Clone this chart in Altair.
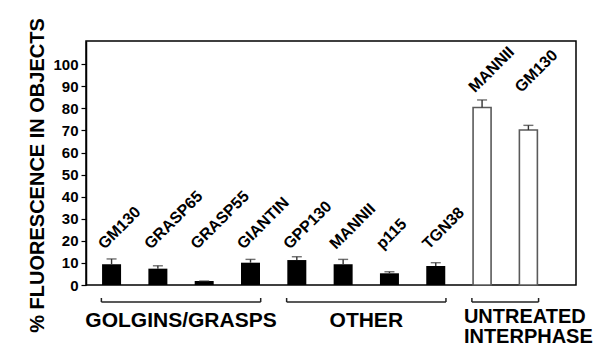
import altair as alt
import pandas as pd

# ---- data ----
labels = ["GM130", "GRASP65", "GRASP55", "GIANTIN",
          "GPP130", "MANNII", "p115", "TGN38",
          "MANNII", "GM130"]
values = [9.4, 7.4, 1.8, 10.1, 11.3, 9.4, 5.3, 8.6, 80.4, 70.2]
errors = [2.4, 1.3, 0.0, 1.5, 1.5, 2.2, 0.7, 1.5, 3.4, 2.1]
groups = ["GOLGINS/GRASPS"] * 4 + ["OTHER"] * 4 + ["UNTREATED"] * 2
treated = [True] * 8 + [False] * 2
y_ticks = [0, 10, 20, 30, 40, 50, 60, 70, 80, 90, 100]
y_title = "% FLUORESCENCE IN OBJECTS"

FONT = "Liberation Sans"

df = pd.DataFrame({
    "pos": list(range(len(labels))),
    "label": labels,
    "value": values,
    "err": errors,
    "group": groups,
    "treated": treated,
})
df["top"] = df["value"] + df["err"]
df["label_y"] = df.groupby("treated")["top"].transform("max") + 3

g = df.groupby("group", sort=False)["pos"].agg(["min", "max"]).reset_index()
g["x1"] = g["min"] - 0.22
g["x2"] = g["max"] + 0.22
g["center"] = (g["min"] + g["max"]) / 2

xscale = alt.Scale(domain=[-0.444, 9.92], nice=False, zero=False)
yscale = alt.Scale(domain=[0, 110.5], nice=False, zero=True)

X = alt.X("pos:Q", scale=xscale, axis=None)
Y = alt.Y("value:Q", scale=yscale,
          axis=alt.Axis(values=y_ticks, tickCount=11, labelOverlap=False,
                        title=y_title, grid=False,
                        labelFont=FONT, labelFontSize=15, labelFontWeight="bold",
                        labelColor="black", labelPadding=3,
                        tickSize=5, tickColor="black", tickWidth=1.2,
                        domainColor="black", domainWidth=1.5,
                        titleFont=FONT, titleFontSize=20, titleFontWeight="bold",
                        titleColor="black", titleX=-39, titleY=134))

base = alt.Chart(df)

bars_black = base.transform_filter("datum.treated").mark_bar(
    size=19, color="black").encode(x=X, y=Y)
bars_white = base.transform_filter("!datum.treated").mark_bar(
    size=18, fill="white", stroke="#5a5a5a", strokeWidth=1.6).encode(x=X, y=Y)

err_rule = base.mark_rule(color="#333333", strokeWidth=1.4).encode(
    x=X, y=alt.Y("value:Q", scale=yscale), y2="top:Q")
err_cap = base.mark_tick(orient="horizontal", size=10, thickness=1.4,
                         color="#333333").encode(
    x=X, y=alt.Y("top:Q", scale=yscale))

names = base.mark_text(font=FONT, fontSize=16, fontWeight="bold",
                       angle=315, align="left", baseline="alphabetic",
                       dx=-5, dy=-5, color="black").encode(
    x=X, y=alt.Y("label_y:Q", scale=yscale), text="label:N")

gb = alt.Chart(g)
bracket = gb.mark_rule(color="#222222", strokeWidth=1.5).encode(
    x=alt.X("x1:Q", scale=xscale), x2="x2:Q", y=alt.value(261))
bracket_l = gb.mark_rule(color="#222222", strokeWidth=1.5).encode(
    x=alt.X("x1:Q", scale=xscale), y=alt.value(257), y2=alt.value(261))
bracket_r = gb.mark_rule(color="#222222", strokeWidth=1.5).encode(
    x=alt.X("x2:Q", scale=xscale), y=alt.value(257), y2=alt.value(261))

group_text = gb.transform_filter("datum.group != 'UNTREATED'").mark_text(
    font=FONT, fontSize=21, fontWeight="bold", align="center",
    baseline="alphabetic", color="black").encode(
    x=alt.X("center:Q", scale=xscale), y=alt.value(286), text="group:N")

untreated1 = gb.transform_filter("datum.group == 'UNTREATED'").mark_text(
    font=FONT, fontSize=20, fontWeight="bold", align="left",
    baseline="alphabetic", color="black", dx=-8).encode(
    x=alt.X("x1:Q", scale=xscale), y=alt.value(282), text=alt.value("UNTREATED"))
untreated2 = gb.transform_filter("datum.group == 'UNTREATED'").mark_text(
    font=FONT, fontSize=20, fontWeight="bold", align="left",
    baseline="alphabetic", color="black", dx=-8).encode(
    x=alt.X("x1:Q", scale=xscale), y=alt.value(302), text=alt.value("INTERPHASE"))

chart = alt.layer(
    bars_black, bars_white, err_rule, err_cap, names,
    bracket, bracket_l, bracket_r, group_text, untreated1, untreated2
).properties(
    width=490, height=244,
    autosize=alt.AutoSizeParams(type="none"),
    padding={"left": 78, "top": 33, "right": 24, "bottom": 62},
    background="white",
).configure_view(
    stroke="black", strokeWidth=1.5
)

chart.save("out.html", embed_options={"renderer": "svg", "actions": False})
